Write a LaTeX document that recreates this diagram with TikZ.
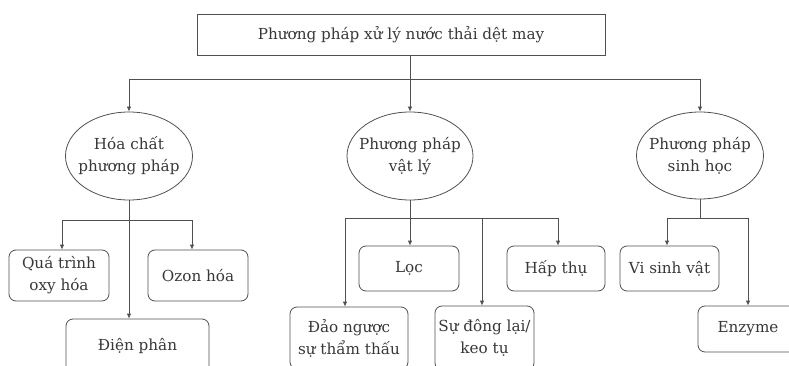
\documentclass[tikz,border=0pt]{standalone}
\usepackage{fontspec}
\setmainfont{DejaVu Serif}
\usetikzlibrary{arrows.meta,shapes.geometric}
\definecolor{linec}{HTML}{505050}
\definecolor{textc}{HTML}{383838}
\tikzset{
  every node/.style={text=textc, font=\fontsize{15.2}{22}\selectfont, align=center, inner sep=0pt},
  rbox/.style={draw=linec, line width=0.8pt, rounded corners=7pt},
  topbox/.style={draw=linec, line width=0.8pt},
  ell/.style={draw=linec, line width=0.8pt, ellipse, inner sep=-18pt},
  conn/.style={draw=linec, line width=0.8pt},
  arr/.style={conn, -{Latex[length=5pt,width=4.5pt]}}
}
\begin{document}
\begin{tikzpicture}[x=1pt,y=-1pt]
\useasboundingbox (0,0) rectangle (789,366);
\clip (0,0) rectangle (789,366);
\fill[white] (0,0) rectangle (789,366);
% nodes
\node[topbox, minimum width=408pt, minimum height=41pt] (top) at (401,34.5) {Phương pháp xử lý nước thải dệt may};
\node[ell, minimum width=127pt, minimum height=88pt] (e1) at (129,156) {Hóa chất\\phương pháp};
\node[ell, minimum width=126pt, minimum height=88pt] (e2) at (410,156) {Phương pháp\\vật lý};
\node[ell, minimum width=127pt, minimum height=87pt] (e3) at (700,155.5) {Phương pháp\\sinh học};
\node[rbox, minimum width=100pt, minimum height=51pt] (qua) at (59,275.5) {Quá trình\\oxy hóa};
\node[rbox, minimum width=100pt, minimum height=51pt] (ozon) at (198,275.5) {Ozon hóa};
\node[rbox, minimum width=143pt, minimum height=54pt] (dien) at (137.5,346) {Điện phân};
\node[rbox, minimum width=100pt, minimum height=45pt] (loc) at (409,268.5) {Lọc};
\node[rbox, minimum width=98pt, minimum height=45pt] (hap) at (556,268.5) {Hấp thụ};
\node[rbox, minimum width=99pt, minimum height=45pt] (vsv) at (669.5,268.5) {Vi sinh vật};
\node[rbox, minimum width=118pt, minimum height=62pt] (dao) at (349,338) {Đảo ngược\\sự thẩm thấu};
\node[rbox, minimum width=99pt, minimum height=64pt] (dong) at (484.5,338) {Sự đông lại/\\keo tụ};
\node[rbox, minimum width=100pt, minimum height=46pt] (enz) at (748,329) {Enzyme};
% level 1 connectors
\coordinate (busL) at (129,79);
\coordinate (busR) at (700,79);
\draw[conn] (busL) -- (busR);
\draw[arr] (busL) -- (e1.north);
\draw[arr] (busR) -- (e3.north);
\draw[arr] (e2.north |- top.south) -- (e2.north);
% left group
\coordinate (lL) at (62,220);
\coordinate (lR) at (192,220);
\draw[conn] (lL) -- (lR);
\draw[arr] (lL) -- (lL |- qua.north);
\draw[arr] (lR) -- (lR |- ozon.north);
\draw[arr] (e1.south) -- (e1.south |- dien.north);
% middle group
\coordinate (mL) at (345,218);
\coordinate (mM) at (482,218);
\coordinate (mR) at (558,218);
\draw[conn] (mL) -- (mR);
\draw[arr] (e2.south) -- (e2.south |- loc.north);
\draw[arr] (mL) -- (mL |- dao.north);
\draw[arr] (mM) -- (mM |- dong.north);
\draw[arr] (mR) -- (mR |- hap.north);
% right group
\coordinate (rJ) at (700,218);
\coordinate (rL) at (667,218);
\coordinate (rR) at (748,218);
\draw[conn] (e3.south) -- (rJ);
\draw[conn] (rL) -- (rR);
\draw[arr] (rL) -- (rL |- vsv.north);
\draw[arr] (rR) -- (rR |- enz.north);
\end{tikzpicture}
\end{document}
